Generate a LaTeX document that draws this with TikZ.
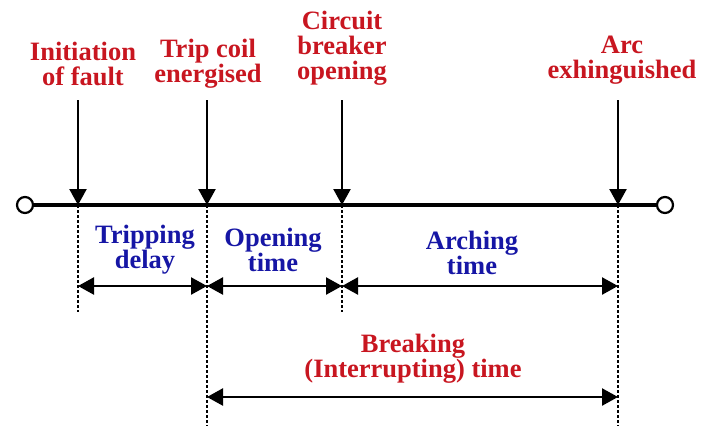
\documentclass[tikz,border=0pt]{standalone}
\usepackage{fontspec}
\setmainfont{Liberation Serif}
\usetikzlibrary{arrows.meta}
\definecolor{lblred}{RGB}{200,22,32}
\definecolor{lblblue}{RGB}{22,22,165}
\begin{document}
\begin{tikzpicture}[x=1pt,y=1pt,
  evtlabel/.style={text=lblred,font=\fontsize{26.5}{25}\selectfont\bfseries,align=center,inner sep=0pt},
  durlabel/.style={text=lblblue,font=\fontsize{26.5}{25}\selectfont\bfseries,align=center,inner sep=0pt},
  evtarrow/.style={line width=2.4pt,-{Triangle[length=16pt,width=17pt]}},
  dimarrow/.style={line width=2.4pt,{Triangle[length=16pt,width=17pt]}-{Triangle[length=16pt,width=17pt]}},
  guide/.style={line width=2pt,dash pattern=on 2.5pt off 2.5pt},
  endring/.style={circle,draw,line width=2.2pt,fill=white,minimum size=16pt,inner sep=0pt}]
\useasboundingbox (0,0) rectangle (702,-426);
% timeline
\node[endring] (L) at (25,-205) {};
\node[endring] (R) at (665,-205) {};
\draw[line width=3.2pt] (L) -- (R);
% event points on the line
\coordinate (e1) at (78,-205);
\coordinate (e2) at (207,-205);
\coordinate (e3) at (342,-205);
\coordinate (e4) at (618,-205);
% arrow starts
\coordinate (t1) at (78,-100);
\coordinate (t2) at (207,-100);
\coordinate (t3) at (342,-100);
\coordinate (t4) at (618,-100);
\draw[evtarrow] (t1) -- (e1);
\draw[evtarrow] (t2) -- (e2);
\draw[evtarrow] (t3) -- (e3);
\draw[evtarrow] (t4) -- (e4);
% dotted guides
\coordinate (b1) at (78,-312);
\coordinate (b2) at (207,-426);
\coordinate (b3) at (342,-312);
\coordinate (b4) at (618,-426);
\draw[guide] (e1) -- (b1);
\draw[guide] (e2) -- (b2);
\draw[guide] (e3) -- (b3);
\draw[guide] (e4) -- (b4);
% dimension arrows
\coordinate (d1) at (78,-286);
\coordinate (d2) at (207,-286);
\coordinate (d3) at (342,-286);
\coordinate (d4) at (618,-286);
\draw[dimarrow] (d1) -- (d2);
\draw[dimarrow] (d2) -- (d3);
\draw[dimarrow] (d3) -- (d4);
\coordinate (k2) at (207,-397);
\coordinate (k4) at (618,-397);
\draw[dimarrow] (k2) -- (k4);
% event labels
\node[evtlabel] (n1) at (83,-64) {Initiation\\of fault};
\node[evtlabel] (n2) at (208,-64) {Trip coil\\energised};
\node[evtlabel] (n3) at (342,-48) {Circuit\\breaker\\opening};
\node[evtlabel] (n4) at (622,-60) {Arc\\exhinguished};
% duration labels
\node[durlabel] (m1) at (145,-250) {Tripping\\delay};
\node[durlabel] (m2) at (273,-250) {Opening\\time};
\node[durlabel] (m3) at (472,-253) {Arching\\time};
\node[evtlabel] (m4) at (413,-359) {Breaking\\(Interrupting) time};
\end{tikzpicture}
\end{document}
